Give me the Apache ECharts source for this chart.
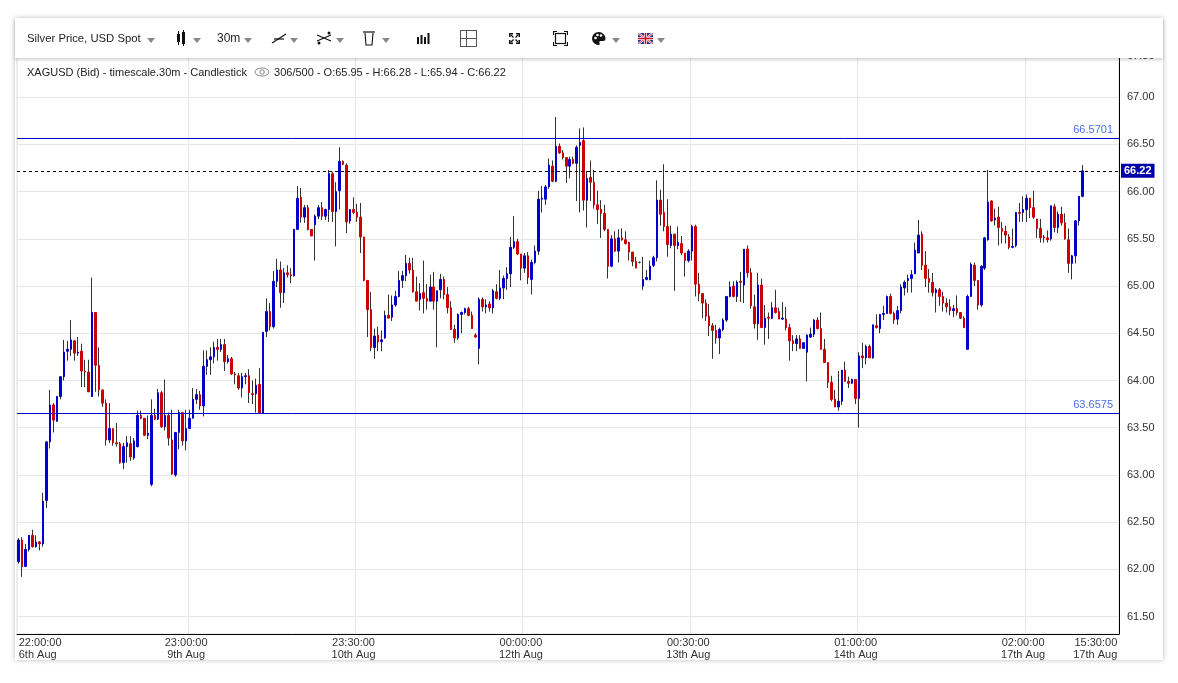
<!DOCTYPE html>
<html><head><meta charset="utf-8">
<script src="https://cdn.jsdelivr.net/npm/echarts@6/dist/echarts.min.js"></script>
<style>
html,body{margin:0;padding:0;background:#fff;width:1178px;height:683px;overflow:hidden;font-family:'Liberation Sans',Arial,sans-serif;}
#card{position:absolute;left:15px;top:18px;width:1148px;height:642px;background:#fff;box-shadow:0 0 5px rgba(0,0,0,0.28);}
#chart{position:absolute;left:0;top:0;width:1178px;height:683px;z-index:1;}
#toolbar{position:absolute;left:15px;top:18px;width:1148px;height:40px;background:#fff;box-shadow:0 2px 3px rgba(0,0,0,0.18);z-index:2;}
.ti{position:absolute;top:0;height:40px;display:flex;align-items:center;font-size:11.3px;color:#222;}
.dd{position:absolute;top:20px;width:0;height:0;border-left:4.5px solid transparent;border-right:4.5px solid transparent;border-top:5px solid #888;}
#legend{position:absolute;left:27px;top:66px;font-size:11px;color:#222;z-index:3;display:flex;align-items:center;white-space:nowrap;}
</style></head>
<body>
<div id="card"></div>
<div id="chart"></div>
<div id="toolbar">
  <div class="ti" style="left:12px">Silver Price, USD Spot</div><div class="dd" style="left:132px"></div>
  <div class="ti" style="left:160px"><svg width="12" height="18"><line x1="3.5" y1="2" x2="3.5" y2="16" stroke="#111"/><rect x="2" y="5" width="3" height="8" fill="#111"/><line x1="8.5" y1="1" x2="8.5" y2="17" stroke="#111"/><rect x="7" y="3" width="3" height="12" fill="#111"/></svg></div><div class="dd" style="left:178px"></div>
  <div class="ti" style="left:202px;font-size:12px">30m</div><div class="dd" style="left:229px"></div>
  <div class="ti" style="left:256px"><svg width="16" height="14"><line x1="1" y1="12" x2="15" y2="3" stroke="#111" stroke-width="1.2"/><line x1="3" y1="8" x2="13" y2="8" stroke="#111" stroke-width="1.2"/></svg></div><div class="dd" style="left:275px"></div>
  <div class="ti" style="left:301px"><svg width="16" height="14"><line x1="1" y1="4" x2="15" y2="10" stroke="#111" stroke-width="1.2"/><line x1="1" y1="10" x2="15" y2="4" stroke="#111" stroke-width="1.2"/><circle cx="3" cy="12" r="1.5" fill="#111"/><circle cx="13" cy="2" r="1.5" fill="#111"/></svg></div><div class="dd" style="left:321px"></div>
  <div class="ti" style="left:347px"><svg width="14" height="16"><line x1="1" y1="2" x2="13" y2="2" stroke="#111" stroke-width="1.2"/><path d="M3 3 L4 15 L10 15 L11 3" fill="none" stroke="#111" stroke-width="1.1"/></svg></div><div class="dd" style="left:367px"></div>
  <div class="ti" style="left:401px"><svg width="14" height="12"><rect x="1" y="5" width="2" height="7" fill="#111"/><rect x="4.5" y="3" width="2" height="9" fill="#111"/><rect x="8" y="5" width="2" height="7" fill="#111"/><rect x="11.5" y="1" width="2" height="11" fill="#111"/></svg></div>
  <div class="ti" style="left:445px"><svg width="17" height="17"><rect x="0.5" y="0.5" width="16" height="16" fill="none" stroke="#555"/><line x1="6.5" y1="0.5" x2="6.5" y2="16.5" stroke="#555"/><line x1="0.5" y1="8.5" x2="16.5" y2="8.5" stroke="#555"/></svg></div>
  <div class="ti" style="left:493px"><svg width="13" height="13"><path d="M1 1h4v1.5H2.5V5H1zM12 1H8v1.5h2.5V5H12zM1 12h4v-1.5H2.5V8H1zM12 12H8v-1.5h2.5V8H12z" fill="#111"/><path d="M3 3l2.5 2.5M10 3L7.5 5.5M3 10l2.5-2.5M10 10L7.5 7.5" stroke="#111" stroke-width="1.3"/></svg></div>
  <div class="ti" style="left:538px"><svg width="15" height="15"><rect x="2.5" y="2.5" width="10" height="10" fill="none" stroke="#111" stroke-width="1.2"/><path d="M0.5 4V0.5H4M11 0.5h3.5V4M0.5 11v3.5H4M11 14.5h3.5V11" fill="none" stroke="#111" stroke-width="1.2"/></svg></div>
  <div class="ti" style="left:576px"><svg width="15" height="15"><path d="M7.5 1a6.5 6.5 0 1 0 0 13c1.2 0 1.6-1 1-2-0.6-1 0-2 1.2-2H12a2.5 2.5 0 0 0 2.5-2.5C14.5 4 11.5 1 7.5 1z" fill="#111"/><circle cx="4.5" cy="7" r="1.3" fill="#fff"/><circle cx="6.5" cy="4" r="1.3" fill="#fff"/><circle cx="10" cy="4.5" r="1.3" fill="#fff"/></svg></div><div class="dd" style="left:597px"></div>
  <div class="ti" style="left:623px"><svg width="15" height="11"><rect width="15" height="11" fill="#1a3c8c"/><path d="M0 0L15 11M15 0L0 11" stroke="#fff" stroke-width="2.2"/><path d="M0 0L15 11M15 0L0 11" stroke="#c8102e" stroke-width="0.8"/><rect x="6" y="0" width="3" height="11" fill="#fff"/><rect x="0" y="4" width="15" height="3" fill="#fff"/><rect x="6.7" y="0" width="1.6" height="11" fill="#c8102e"/><rect x="0" y="4.7" width="15" height="1.6" fill="#c8102e"/></svg></div><div class="dd" style="left:642px"></div>
</div>
<div id="legend">XAGUSD (Bid) - timescale.30m - Candlestick<svg width="16" height="10" style="margin:0 4px 0 7px"><ellipse cx="8" cy="5" rx="7" ry="4" fill="none" stroke="#888"/><circle cx="8" cy="5" r="2.2" fill="none" stroke="#888"/></svg>306/500 - O:65.95 - H:66.28 - L:65.94 - C:66.22</div>
<script>
// ---- data (30m candles, XAGUSD) ----
const opens = [62.08,62.31,62.03,62.21,62.36,62.24,62.29,62.27,62.73,63.35,
63.74,63.57,63.83,64.04,64.31,64.33,64.42,64.29,64.31,64.10,
64.09,63.83,64.72,64.16,63.90,63.76,63.37,63.49,63.34,63.33,
63.13,63.30,63.33,63.18,63.30,63.63,63.60,63.42,62.90,63.63,
63.59,63.87,63.51,63.63,63.37,63.00,63.45,63.66,63.36,63.49,
63.60,63.80,63.85,63.73,64.15,64.22,64.25,64.35,64.33,64.38,
64.20,64.23,64.07,64.05,63.92,64.04,64.05,63.86,63.86,63.96,
63.65,64.52,64.73,64.57,65.05,65.17,64.93,65.14,65.12,65.11,
65.60,65.94,65.73,65.83,65.60,65.65,65.74,65.83,65.74,65.81,
66.19,65.79,66.01,66.32,66.28,65.69,65.81,65.78,65.73,65.52,
65.06,64.75,64.35,64.48,64.41,64.45,64.69,64.67,64.80,64.89,
65.06,65.11,65.24,65.17,64.94,64.86,64.93,64.87,64.84,64.99,
64.84,64.96,65.07,64.91,64.77,64.54,64.45,64.70,64.72,64.76,
64.69,64.48,64.34,64.86,64.78,64.81,64.77,64.94,64.87,64.98,
65.08,65.13,65.41,65.47,65.34,65.19,65.32,65.07,65.25,65.37,
65.92,65.92,66.05,66.27,66.11,66.48,66.41,66.36,66.27,66.34,
66.30,66.49,66.54,65.91,66.15,66.10,65.86,65.81,65.77,65.60,
65.21,65.50,65.37,65.51,65.49,65.46,65.36,65.26,65.25,65.00,
65.07,65.07,65.22,65.30,65.91,65.78,65.63,65.43,65.55,65.43,
65.45,65.35,65.27,65.37,65.63,65.02,64.92,64.82,64.68,64.58,
64.53,64.45,64.54,64.64,64.89,65.00,64.89,65.05,65.01,65.39,
65.14,64.78,64.60,65.01,64.56,64.67,64.66,64.77,64.73,64.65,
64.65,64.56,64.42,64.39,64.44,64.34,64.30,64.46,64.49,64.64,
64.55,64.33,64.19,63.98,63.80,63.72,63.78,64.11,63.99,63.97,
64.01,63.81,64.26,64.24,64.36,64.24,64.58,64.55,64.70,64.71,
64.89,64.71,64.65,64.74,64.98,65.06,65.08,65.13,65.35,65.55,
65.22,65.08,65.04,64.93,64.96,64.89,64.82,64.78,64.74,64.76,
64.72,64.66,64.33,64.89,65.22,65.06,64.80,65.19,65.49,65.90,
65.70,65.73,65.61,65.58,65.52,65.41,65.43,65.78,65.78,65.81,
65.93,65.83,65.71,65.61,65.52,65.51,65.50,65.84,65.62,65.76,
65.67,65.49,65.24,65.32,65.69,65.95];
const closes = [62.31,62.03,62.21,62.36,62.24,62.29,62.27,62.72,63.35,63.74,
63.58,63.83,64.04,64.30,64.33,64.43,64.29,64.30,64.10,64.09,
63.88,64.72,64.16,63.90,63.76,63.37,63.49,63.34,63.33,63.13,
63.30,63.34,63.19,63.36,63.63,63.60,63.42,63.44,63.63,63.59,
63.87,63.51,63.63,63.39,63.01,63.45,63.66,63.36,63.49,63.60,
63.80,63.85,63.73,64.15,64.22,64.25,64.35,64.33,64.38,64.20,
64.23,64.07,64.06,63.92,64.04,64.05,63.87,63.85,63.95,63.65,
64.51,64.73,64.57,65.05,65.17,64.93,65.14,65.12,65.11,65.60,
65.93,65.73,65.83,65.60,65.53,65.74,65.83,65.74,65.81,66.19,
65.79,66.00,66.32,66.29,65.68,65.81,65.78,65.73,65.52,65.06,
64.75,64.35,64.47,64.41,64.43,64.69,64.66,64.80,64.89,65.06,
65.11,65.24,65.17,64.94,64.84,64.92,64.87,64.84,64.99,64.84,
64.95,65.07,64.91,64.77,64.54,64.45,64.70,64.72,64.76,64.69,
64.55,64.46,64.86,64.78,64.80,64.77,64.95,64.87,64.98,65.08,
65.13,65.41,65.47,65.34,65.19,65.32,65.09,65.25,65.37,65.92,
65.93,66.05,66.28,66.11,66.48,66.41,66.36,66.27,66.34,66.30,
66.47,66.52,65.91,66.14,66.10,65.86,65.81,65.77,65.60,65.21,
65.50,65.37,65.51,65.49,65.45,65.36,65.26,65.19,65.25,65.07,
65.09,65.21,65.30,65.91,65.76,65.63,65.44,65.55,65.43,65.46,
65.35,65.27,65.37,65.63,65.02,64.92,64.82,64.68,64.58,64.53,
64.45,64.54,64.64,64.89,64.99,64.89,65.04,65.04,65.39,65.14,
64.79,64.60,65.01,64.56,64.66,64.66,64.77,64.72,64.65,64.66,
64.56,64.42,64.39,64.44,64.34,64.40,64.48,64.49,64.64,64.55,
64.33,64.19,63.98,63.80,63.72,63.78,64.11,63.99,63.97,64.01,
63.81,64.26,64.24,64.36,64.24,64.59,64.56,64.70,64.71,64.89,
64.71,64.64,64.74,64.99,65.04,65.08,65.12,65.38,65.54,65.22,
65.08,65.04,64.93,64.96,64.89,64.82,64.78,64.74,64.76,64.72,
64.66,64.56,64.89,65.23,65.06,64.80,65.21,65.51,65.89,65.69,
65.72,65.62,65.58,65.54,65.41,65.42,65.78,65.77,65.81,65.93,
65.83,65.73,65.61,65.51,65.51,65.49,65.85,65.62,65.76,65.67,
65.50,65.24,65.32,65.69,65.95,66.22];
const highs = [62.33,62.34,62.27,62.36,62.42,62.36,62.30,62.81,63.35,63.90,
63.76,63.83,64.04,64.43,64.42,64.64,64.43,64.46,64.39,64.22,
64.22,65.09,64.72,64.35,63.90,63.80,63.76,63.49,63.55,63.35,
63.34,63.41,63.41,63.39,63.68,63.68,63.60,63.63,63.80,63.70,
63.91,63.89,64.01,63.66,63.69,63.45,63.69,63.66,63.69,63.69,
63.92,63.91,63.89,64.32,64.32,64.35,64.41,64.44,64.44,64.44,
64.27,64.25,64.09,64.08,64.08,64.08,64.12,64.00,64.02,64.13,
64.51,64.87,64.82,65.16,65.29,65.26,65.19,65.22,65.19,65.60,
66.06,66.04,65.86,65.86,65.60,65.76,65.86,65.89,65.82,66.23,
66.21,66.10,66.47,66.33,66.30,65.81,65.94,65.87,65.88,65.52,
65.06,64.94,64.55,64.57,64.53,64.74,64.91,64.90,64.95,65.16,
65.16,65.33,65.30,65.30,65.10,65.03,65.27,65.02,65.12,65.15,
64.95,65.13,65.10,64.99,64.84,64.59,64.71,64.73,64.77,64.78,
64.73,64.50,64.88,64.88,64.86,64.84,64.97,65.02,65.17,65.11,
65.20,65.52,65.74,65.50,65.34,65.35,65.36,65.28,65.43,66.01,
66.06,66.07,66.35,66.33,66.79,66.51,66.44,66.36,66.37,66.37,
66.49,66.67,66.68,66.22,66.33,66.23,66.01,65.91,65.86,65.60,
65.54,65.58,65.60,65.61,65.58,65.47,65.36,65.31,65.26,65.31,
65.17,65.27,65.32,66.12,66.02,66.29,65.92,65.64,65.55,65.63,
65.53,65.35,65.39,65.65,65.65,65.14,64.92,64.86,64.81,64.61,
64.59,64.56,64.66,64.89,65.05,65.05,65.06,65.15,65.39,65.43,
65.19,64.91,65.14,65.08,64.80,64.72,64.83,64.96,64.77,64.83,
64.78,64.60,64.48,64.48,64.48,64.40,64.49,64.56,64.65,64.67,
64.72,64.44,64.19,64.05,63.90,64.10,64.11,64.20,64.04,64.02,
64.01,64.30,64.40,64.38,64.38,64.59,64.70,64.70,64.79,64.90,
64.92,64.73,64.79,65.02,65.06,65.12,65.17,65.46,65.70,65.58,
65.37,65.18,65.14,64.98,64.98,64.94,64.87,64.86,64.80,64.90,
64.72,64.68,64.91,65.25,65.25,65.06,65.22,65.52,66.23,65.91,
65.82,65.84,65.68,65.64,65.55,65.61,65.78,65.88,65.95,65.97,
65.93,66.01,65.71,65.71,65.54,65.59,65.85,65.87,65.79,65.84,
65.77,65.61,65.33,65.70,65.95,66.28];
const lows = [62.06,61.92,62.03,62.19,62.23,62.23,62.20,62.24,62.65,63.28,
63.45,63.56,63.80,64.00,64.21,64.26,64.21,64.26,63.93,63.93,
63.88,63.83,63.88,63.83,63.72,63.31,63.34,63.31,63.30,63.12,
63.06,63.13,63.15,63.16,63.29,63.59,63.41,63.38,62.88,63.58,
63.58,63.50,63.47,63.31,63.00,62.98,63.27,63.31,63.26,63.49,
63.60,63.75,63.69,63.62,64.06,64.06,64.18,64.21,64.30,64.10,
64.18,64.06,63.96,63.90,63.82,63.96,63.76,63.75,63.66,63.65,
63.65,64.46,64.53,64.55,64.99,64.77,64.82,65.09,65.03,65.10,
65.60,65.67,65.67,65.59,65.53,65.27,65.71,65.70,65.70,65.68,
65.68,65.42,65.81,66.28,65.56,65.66,65.76,65.68,65.35,65.05,
64.46,64.31,64.23,64.31,64.31,64.44,64.66,64.63,64.78,64.88,
64.98,65.05,65.13,64.93,64.84,64.74,64.71,64.75,64.84,64.75,
64.35,64.87,64.86,64.71,64.54,64.40,64.43,64.50,64.70,64.68,
64.55,64.45,64.17,64.73,64.71,64.73,64.71,64.86,64.85,64.86,
64.96,64.99,65.39,65.33,65.06,65.14,65.02,64.91,65.23,65.33,
65.78,65.86,66.03,66.10,66.10,66.40,66.34,66.09,66.14,66.29,
65.90,65.78,65.80,65.62,65.90,65.82,65.66,65.51,65.58,65.08,
65.20,65.36,65.25,65.48,65.44,65.27,65.21,65.19,65.24,64.96,
65.06,65.06,65.20,65.26,65.64,65.58,65.31,65.40,64.95,65.39,
65.33,65.10,65.25,65.27,64.89,64.84,64.66,64.63,64.47,64.23,
64.39,64.28,64.52,64.62,64.88,64.88,64.83,64.83,64.82,65.09,
64.76,64.55,64.43,64.56,64.38,64.44,64.65,64.71,64.65,64.64,
64.53,64.21,64.31,64.31,64.34,64.34,63.99,64.45,64.46,64.54,
64.33,64.19,63.92,63.78,63.72,63.68,63.74,63.99,63.92,63.97,
63.75,63.50,64.13,64.17,64.24,64.23,64.55,64.50,64.64,64.71,
64.70,64.60,64.59,64.71,64.90,64.93,64.93,65.13,65.35,65.17,
64.99,64.93,64.89,64.72,64.79,64.73,64.72,64.69,64.67,64.69,
64.65,64.56,64.33,64.89,65.00,64.75,64.78,65.17,65.48,65.68,
65.64,65.43,65.45,65.45,65.39,65.40,65.41,65.68,65.68,65.68,
65.72,65.71,65.51,65.46,65.46,65.46,65.48,65.57,65.56,65.64,
65.49,65.14,65.07,65.24,65.64,65.94];
// x-axis tick labels (slot index -> label)
const tickIndex = [0, 48, 96, 144, 192, 240, 288, 315];
const tickLabels = ['22:00:00\n6th Aug','23:00:00\n9th Aug','23:30:00\n10th Aug','00:00:00\n12th Aug','00:30:00\n13th Aug','01:00:00\n14th Aug','02:00:00\n17th Aug','15:30:00\n17th Aug'];
const slotCount = 316;
// horizontal levels
const levelHigh = 66.5701;
const levelLow = 63.6575;
const lastClose = 66.22;

const FONT = "'Liberation Sans', Arial, sans-serif";
const categories = Array.from({length: slotCount}, (_, i) => String(i));
const labelMap = {};
tickIndex.forEach((t, k) => { labelMap[t] = tickLabels[k]; });
// vertical grid lines sit on the right edge of each labelled slot
const gridLineIdx = tickIndex.filter(i => i > 0 && i < 300).map(i => i + 1);

const wickData = opens.map((o, i) => [o, closes[i], lows[i], highs[i]]);
const bodyData = opens.map((o, i) => [o, closes[i], Math.min(o, closes[i]), Math.max(o, closes[i])]);

const chart = echarts.init(document.getElementById('chart'), null, {renderer: 'canvas'});
chart.setOption({
  animation: false,
  backgroundColor: 'transparent',
  textStyle: {fontFamily: FONT},
  grid: {left: 17, right: 59, top: 50, bottom: 49, show: true, borderColor: '#dcdcdc', borderWidth: 1},
  xAxis: {
    type: 'category', data: categories, boundaryGap: true,
    axisLine: {lineStyle: {color: '#000', width: 1}},
    axisTick: {show: false},
    axisLabel: {
      interval: (i) => labelMap[i] !== undefined,
      formatter: (v) => labelMap[Number(v)] || '',
      color: '#333', fontSize: 11, lineHeight: 12, margin: 3, fontFamily: FONT,
      alignMinLabel: 'left', alignMaxLabel: 'right'
    },
    splitLine: {show: true, interval: (i) => gridLineIdx.indexOf(i) >= 0, lineStyle: {color: '#e6e6e6', width: 1}}
  },
  yAxis: {
    type: 'value', position: 'right', min: 61.315, max: 67.5,
    minInterval: 0.5, maxInterval: 0.5, splitNumber: 12,
    axisLine: {show: true, lineStyle: {color: '#000', width: 1}},
    axisTick: {show: false},
    axisLabel: {color: '#333', fontSize: 11, margin: 8, fontFamily: FONT,
      formatter: (v) => v.toFixed(2), showMinLabel: false, verticalAlignMaxLabel: 'top'},
    splitLine: {show: true, lineStyle: {color: '#e6e6e6', width: 1}}
  },
  series: [
    {
      type: 'candlestick', name: 'wick', data: wickData, barWidth: 1, z: 2, silent: true,
      itemStyle: {color: '#333', color0: '#333', borderColor: '#333', borderColor0: '#333', borderColorDoji: '#333', borderWidth: 1}
    },
    {
      type: 'candlestick', name: 'body', data: bodyData, barWidth: 2, z: 3, silent: true,
      itemStyle: {color: '#0000cc', color0: '#cc0000', borderColor: '#0000cc', borderColor0: '#cc0000', borderColorDoji: '#333', borderWidth: 1},
      markLine: {
        silent: true, symbol: 'none', animation: false, precision: 4,
        data: [
          {yAxis: levelHigh, lineStyle: {color: '#0000dd', width: 1, type: 'solid'},
            label: {show: true, position: 'insideEndTop', formatter: levelHigh.toFixed(4), color: '#4a6ef0', fontSize: 11, fontFamily: FONT, distance: [6, 2]}},
          {yAxis: levelLow, lineStyle: {color: '#0000dd', width: 1, type: 'solid'},
            label: {show: true, position: 'insideEndTop', formatter: levelLow.toFixed(4), color: '#4a6ef0', fontSize: 11, fontFamily: FONT, distance: [6, 2]}},
          {yAxis: lastClose, lineStyle: {color: '#000', width: 1, type: [3, 3]},
            label: {show: true, position: 'end', formatter: lastClose.toFixed(2), color: '#fff', backgroundColor: '#0000a8',
              padding: [2, 3, 1, 3], fontSize: 11, fontWeight: 'bold', fontFamily: FONT, distance: 2}}
        ]
      }
    }
  ]
});
</script>
</body></html>
